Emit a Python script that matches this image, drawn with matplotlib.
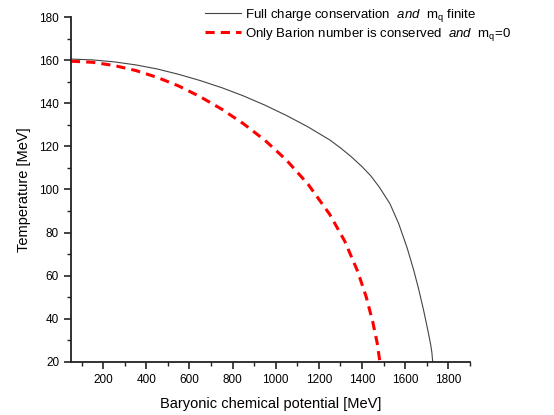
import matplotlib
matplotlib.use('Agg')
import matplotlib.pyplot as plt
from matplotlib.ticker import MultipleLocator

plt.rcParams['font.family'] = ['Liberation Sans', 'DejaVu Sans']
plt.rcParams['mathtext.fontset'] = 'custom'
plt.rcParams['mathtext.rm'] = 'Liberation Sans'
plt.rcParams['mathtext.it'] = 'Liberation Sans:italic'

# full charge conservation, finite quark mass
mu_full = [50, 150, 250, 350, 450, 550, 650, 750, 850, 950, 1050, 1150, 1250, 1300,
           1350, 1400, 1440, 1481, 1530, 1570, 1610, 1640, 1663, 1685, 1705, 1718, 1724, 1728]
T_full = [160.5, 160.1, 159.2, 157.8, 155.9, 153.4, 150.5, 147.2, 143.4, 139.1, 134.3, 129.0, 123.0, 119.3,
          115.2, 110.6, 106.4, 101.0, 93.3, 84.2, 72.7, 62.5, 53.7, 44.3, 34.9, 28.3, 24.5, 20.0]

# only baryon number conserved, massless quarks
mu_bar = [50, 150, 250, 350, 450, 550, 650, 750, 850, 950, 1050, 1150, 1250,
          1320, 1380, 1420, 1450, 1470, 1483]
T_bar = [159.5, 159.0, 157.5, 155.2, 152.0, 148.0, 143.0, 137.2, 130.5, 122.8, 113.6, 102.4, 88.5,
         76.0, 62.0, 50.0, 38.5, 29.0, 20.0]

label_full = r'Full charge conservation  $\mathit{and}$  m$_\mathregular{q}$ finite'
label_bar = r'Only Barion number is conserved  $\mathit{and}$  m$_\mathregular{q}$=0'

fig = plt.figure(figsize=(5.54, 4.15), dpi=100)
ax = fig.add_axes([0.128, 0.128, 0.72, 0.831])

ax.plot(mu_full, T_full, color='#444444', lw=0.8, label=label_full)
ax.plot(mu_bar, T_bar, color='red', lw=2.2, dashes=(3, 2), label=label_bar)

ax.set_xlim(50, 1900)
ax.set_ylim(20, 180)
ax.xaxis.set_major_locator(MultipleLocator(200))
ax.xaxis.set_minor_locator(MultipleLocator(100))
ax.yaxis.set_major_locator(MultipleLocator(20))
ax.yaxis.set_minor_locator(MultipleLocator(10))

for s in ['top', 'right']:
    ax.spines[s].set_visible(False)
for s in ['left', 'bottom']:
    ax.spines[s].set_linewidth(1.3)
    ax.spines[s].set_color('#222222')

ax.tick_params(which='major', direction='out', length=5, width=1.2, labelsize=8.5, color='#222222')
ax.tick_params(which='minor', direction='out', length=3, width=1.0, color='#222222')

ax.set_xlabel('Baryonic chemical potential [MeV]', fontsize=10.5, labelpad=8)
ax.set_ylabel('Temperature [MeV]', fontsize=10.5, labelpad=6)

ax.legend(loc='upper left', bbox_to_anchor=(0.336, 1.03), frameon=False, fontsize=9.5,
          handlelength=2.7, handletextpad=0.3, labelspacing=0.15,
          borderpad=0, borderaxespad=0)

fig.savefig('out.png', dpi=100)
